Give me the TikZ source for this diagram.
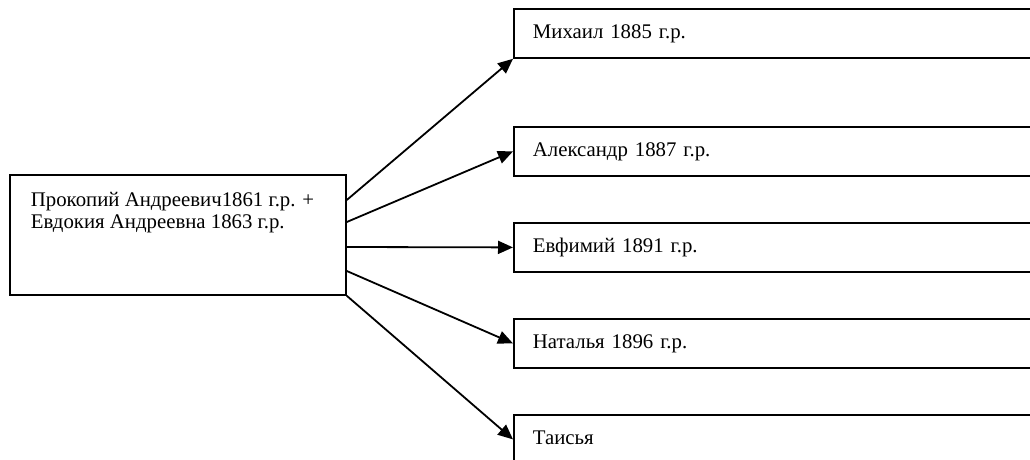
\documentclass[tikz,border=0pt]{standalone}
\usepackage{fontspec}
\setmainfont{Liberation Serif}
\usetikzlibrary{arrows.meta,calc}
\tikzset{
  kidbox/.style={draw, line width=1.8pt, anchor=north west, minimum width=540pt, minimum height=49pt,
    inner xsep=19pt, inner ysep=0pt, text width=502pt, align=left, text height=14pt, text depth=4pt,
    font=\fontsize{20.8pt}{22pt}\selectfont},
  parentbox/.style={draw, line width=1.8pt, anchor=north west, inner xsep=21pt, inner ysep=16.3pt,
    font=\fontsize{20.8pt}{22pt}\selectfont},
  arr/.style={line width=1.8pt, -{Triangle[length=15pt,width=13pt]}}
}
\begin{document}
\begin{tikzpicture}[x=1pt,y=-1pt]
\useasboundingbox (0,0) rectangle (1030,460);
\node[parentbox] (P) at (9,174) {\parbox[t][87.4pt][t]{294pt}{\strut Прокопий Андреевич1861 г.р. +\\ Евдокия Андреевна 1863 г.р.}};
\node[kidbox] (M) at (513,8) {Михаил 1885 г.р.};
\node[kidbox] (A) at (513,126) {Александр 1887 г.р.};
\node[kidbox] (E) at (513,222) {Евфимий 1891 г.р.};
\node[kidbox] (N) at (513,318) {Наталья 1896 г.р.};
\node[kidbox] (T) at (513,414) {Таисья};
\draw[arr] ([yshift=-26pt]P.north east) -- (M.south west);
\draw[arr] ([yshift=-48pt]P.north east) -- (A.west);
\draw[arr] ([yshift=-73pt]P.north east) -- (E.west);
\draw[arr] ([yshift=-97pt]P.north east) -- (N.west);
\draw[arr] (P.south east) -- (T.west);
\end{tikzpicture}
\end{document}
